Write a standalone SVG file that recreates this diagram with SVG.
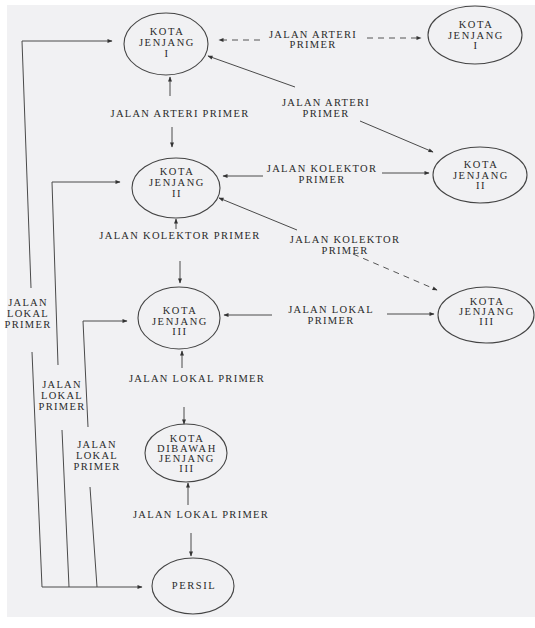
<svg xmlns="http://www.w3.org/2000/svg" width="535" height="628" viewBox="0 0 535 628">
<defs>
<style>
.bg{fill:#f1f1f3}
.nd{fill:none;stroke:#444;stroke-width:1.1}
.nt{font-family:"Liberation Serif","Times New Roman",serif;font-size:10.5px;letter-spacing:1.6px;fill:#2a2a2a;text-anchor:middle}
.lb{font-family:"Liberation Serif","Times New Roman",serif;font-size:10.5px;letter-spacing:1.3px;fill:#2a2a2a;text-anchor:middle}
.ln{fill:none;stroke:#4a4a4a;stroke-width:1}
.ds{fill:none;stroke:#555;stroke-width:1;stroke-dasharray:6 5}
</style>
<marker id="ah" viewBox="0 0 10 10" refX="9" refY="5" markerWidth="6" markerHeight="5" orient="auto" markerUnits="userSpaceOnUse">
<path d="M0,1 L10,5 L0,9 z" fill="#333"/>
</marker>
</defs>
<rect x="0" y="0" width="535" height="628" fill="#ffffff"/>
<rect class="bg" x="7" y="5" width="528" height="612"/>

<g id="connectors">
<polyline class="ln" points="31,288 22,41 112,41" marker-end="url(#ah)"/>
<polyline class="ln" points="32,352 42,587 142,587" marker-end="url(#ah)"/>
<polyline class="ln" points="58,365 52,182 120,182" marker-end="url(#ah)"/>
<line class="ln" x1="62" y1="430" x2="69" y2="587"/>
<polyline class="ln" points="88,427 83,321 127,321" marker-end="url(#ah)"/>
<line class="ln" x1="90" y1="487" x2="97" y2="587"/>
<line class="ln" x1="170" y1="96" x2="170" y2="77" marker-end="url(#ah)"/>
<line class="ln" x1="172" y1="127" x2="172" y2="147" marker-end="url(#ah)"/>
<line class="ln" x1="176" y1="229" x2="176" y2="219" marker-end="url(#ah)"/>
<line class="ln" x1="180" y1="261" x2="180" y2="283" marker-end="url(#ah)"/>
<line class="ln" x1="182" y1="368" x2="182" y2="351" marker-end="url(#ah)"/>
<line class="ln" x1="184" y1="407" x2="184" y2="424" marker-end="url(#ah)"/>
<line class="ln" x1="188" y1="505" x2="188" y2="483" marker-end="url(#ah)"/>
<line class="ln" x1="191" y1="533" x2="191" y2="556" marker-end="url(#ah)"/>
<line class="ds" x1="260" y1="40" x2="219" y2="40" marker-end="url(#ah)"/>
<line class="ds" x1="367" y1="38" x2="421" y2="38" marker-end="url(#ah)"/>
<line class="ln" x1="295" y1="87" x2="208" y2="56" marker-end="url(#ah)"/>
<line class="ln" x1="360" y1="121" x2="433" y2="152" marker-end="url(#ah)"/>
<line class="ln" x1="263" y1="176" x2="223" y2="176" marker-end="url(#ah)"/>
<line class="ln" x1="382" y1="173" x2="429" y2="173" marker-end="url(#ah)"/>
<line class="ln" x1="297" y1="230" x2="219" y2="198" marker-end="url(#ah)"/>
<line class="ds" x1="353" y1="254" x2="437" y2="290" marker-end="url(#ah)"/>
<line class="ln" x1="272" y1="315" x2="224" y2="315" marker-end="url(#ah)"/>
<line class="ln" x1="387" y1="314" x2="434" y2="314" marker-end="url(#ah)"/>
</g>

<g id="labels">
<text class="lb" x="180" y="117">JALAN ARTERI PRIMER</text>
<text class="lb" x="313" y="38">JALAN ARTERI</text>
<text class="lb" x="313" y="48">PRIMER</text>
<text class="lb" x="326" y="106">JALAN ARTERI</text>
<text class="lb" x="326" y="117">PRIMER</text>
<text class="lb" x="322" y="172">JALAN KOLEKTOR</text>
<text class="lb" x="322" y="183">PRIMER</text>
<text class="lb" x="180" y="239">JALAN KOLEKTOR PRIMER</text>
<text class="lb" x="345" y="243">JALAN KOLEKTOR</text>
<text class="lb" x="345" y="254">PRIMER</text>
<text class="lb" x="331" y="313">JALAN LOKAL</text>
<text class="lb" x="331" y="324">PRIMER</text>
<text class="lb" x="197" y="382">JALAN LOKAL PRIMER</text>
<text class="lb" x="201" y="518">JALAN LOKAL PRIMER</text>
<text class="lb" x="28" y="306">JALAN</text>
<text class="lb" x="28" y="317">LOKAL</text>
<text class="lb" x="28" y="328">PRIMER</text>
<text class="lb" x="62" y="388">JALAN</text>
<text class="lb" x="62" y="399">LOKAL</text>
<text class="lb" x="62" y="410">PRIMER</text>
<text class="lb" x="97" y="448">JALAN</text>
<text class="lb" x="97" y="459">LOKAL</text>
<text class="lb" x="97" y="470">PRIMER</text>
</g>

<g id="n-kota1-left">
<ellipse class="nd" cx="166" cy="44" rx="42" ry="31"/>
<text class="nt" x="167" y="35">KOTA</text>
<text class="nt" x="167" y="46">JENJANG</text>
<text class="nt" x="167" y="57">I</text>
</g>
<g id="n-kota1-right">
<ellipse class="nd" cx="475" cy="35" rx="47" ry="29"/>
<text class="nt" x="476" y="28">KOTA</text>
<text class="nt" x="476" y="39">JENJANG</text>
<text class="nt" x="476" y="49">I</text>
</g>
<g id="n-kota2-left">
<ellipse class="nd" cx="176" cy="188" rx="44" ry="30"/>
<text class="nt" x="177" y="175">KOTA</text>
<text class="nt" x="177" y="186">JENJANG</text>
<text class="nt" x="177" y="197">II</text>
</g>
<g id="n-kota2-right">
<ellipse class="nd" cx="480" cy="175" rx="47" ry="28"/>
<text class="nt" x="481" y="168">KOTA</text>
<text class="nt" x="481" y="179">JENJANG</text>
<text class="nt" x="481" y="189">II</text>
</g>
<g id="n-kota3-left">
<ellipse class="nd" cx="179" cy="318" rx="41" ry="31"/>
<text class="nt" x="180" y="314">KOTA</text>
<text class="nt" x="180" y="325">JENJANG</text>
<text class="nt" x="180" y="335">III</text>
</g>
<g id="n-kota3-right">
<ellipse class="nd" cx="486" cy="315" rx="48" ry="28"/>
<text class="nt" x="487" y="305">KOTA</text>
<text class="nt" x="487" y="315">JENJANG</text>
<text class="nt" x="487" y="325">III</text>
</g>
<g id="n-dibawah">
<ellipse class="nd" cx="186" cy="453" rx="41" ry="29"/>
<text class="nt" x="187" y="442">KOTA</text>
<text class="nt" x="187" y="452">DIBAWAH</text>
<text class="nt" x="187" y="462">JENJANG</text>
<text class="nt" x="187" y="472">III</text>
</g>
<g id="n-persil">
<ellipse class="nd" cx="193" cy="586" rx="41" ry="28"/>
<text class="nt" x="194" y="589">PERSIL</text>
</g>
</svg>
